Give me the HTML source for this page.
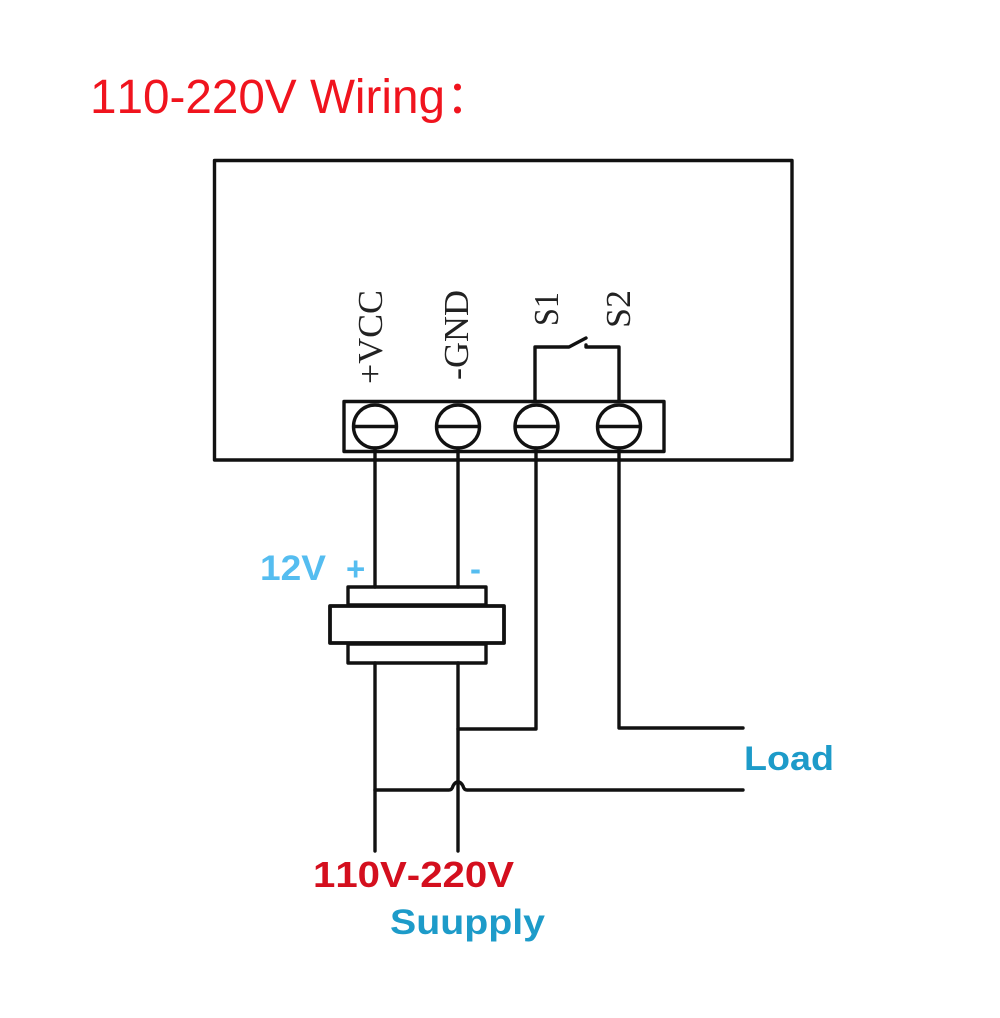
<!DOCTYPE html>
<html>
<head>
<meta charset="utf-8">
<style>
html,body{margin:0;padding:0;background:#fff;width:1000px;height:1018px;overflow:hidden}
svg{display:block}
text{font-kerning:none}
</style>
</head>
<body>
<svg width="1000" height="1018" viewBox="0 0 1000 1018" xmlns="http://www.w3.org/2000/svg">
<rect width="1000" height="1018" fill="#fff"/>
<text x="90" y="113" font-family="'Liberation Sans','Noto Sans CJK SC',sans-serif" font-size="48" fill="#f0141e" textLength="355" lengthAdjust="spacingAndGlyphs">110-220V Wiring</text>
<text x="446" y="113" font-family="'Noto Sans CJK SC',sans-serif" font-size="46" fill="#f0141e">：</text>
<g fill="none" stroke="#111" stroke-width="3.400" stroke-linecap="round" stroke-linejoin="round">
<rect x="214.500" y="160.500" width="577.500" height="299.500"/>
<rect x="344" y="401.500" width="320" height="50"/>
<circle cx="375" cy="426.500" r="21.500"/>
<circle cx="458" cy="426.500" r="21.500"/>
<circle cx="536.500" cy="426.500" r="21.500"/>
<circle cx="619" cy="426.500" r="21.500"/>
<path d="M354 426.500H396M437 426.500H479M515.500 426.500H557.500M598 426.500H640"/>
<path d="M535 401V347H569L586 338M586 345V347H619V401"/>
<path d="M375 448V587M458 448V587M536 448V729H458M619 448V728H743"/>
<path d="M375 663V851M458 663V851"/>
<path d="M375 790H449Q452 790 453 786Q455 782 458 782Q461 782 463 786Q464 790 467 790H743"/>
<rect x="348" y="587" width="138" height="18"/>
<rect x="330" y="606" width="174" height="37" stroke-width="3.800"/>
<rect x="348" y="644" width="138" height="19"/>
</g>
<g font-family="'Liberation Serif',serif" font-size="35" fill="#222">
<text transform="translate(382,384) rotate(-90)" textLength="94" lengthAdjust="spacingAndGlyphs">+VCC</text>
<text transform="translate(468,380) rotate(-90)" textLength="90" lengthAdjust="spacingAndGlyphs">-GND</text>
<text transform="translate(558,326) rotate(-90)" textLength="34" lengthAdjust="spacingAndGlyphs">S1</text>
<text transform="translate(630,328) rotate(-90)" textLength="38" lengthAdjust="spacingAndGlyphs">S2</text>
</g>
<g font-family="'Liberation Sans',sans-serif" font-weight="bold">
<text x="260" y="580" font-size="35" fill="#55bdf0" textLength="66" lengthAdjust="spacingAndGlyphs">12V</text>
<text x="346" y="580" font-size="33" fill="#55bdf0">+</text>
<text x="470" y="580" font-size="33" fill="#55bdf0">-</text>
<text x="744" y="770" font-size="34" fill="#1d9bc9" textLength="90" lengthAdjust="spacingAndGlyphs">Load</text>
<text x="313" y="887" font-size="36" fill="#d40f1e" textLength="201" lengthAdjust="spacingAndGlyphs">110V-220V</text>
<text x="390" y="934" font-size="35" fill="#1d9bc9" textLength="155" lengthAdjust="spacingAndGlyphs">Suupply</text>
</g>
</svg>
</body>
</html>
